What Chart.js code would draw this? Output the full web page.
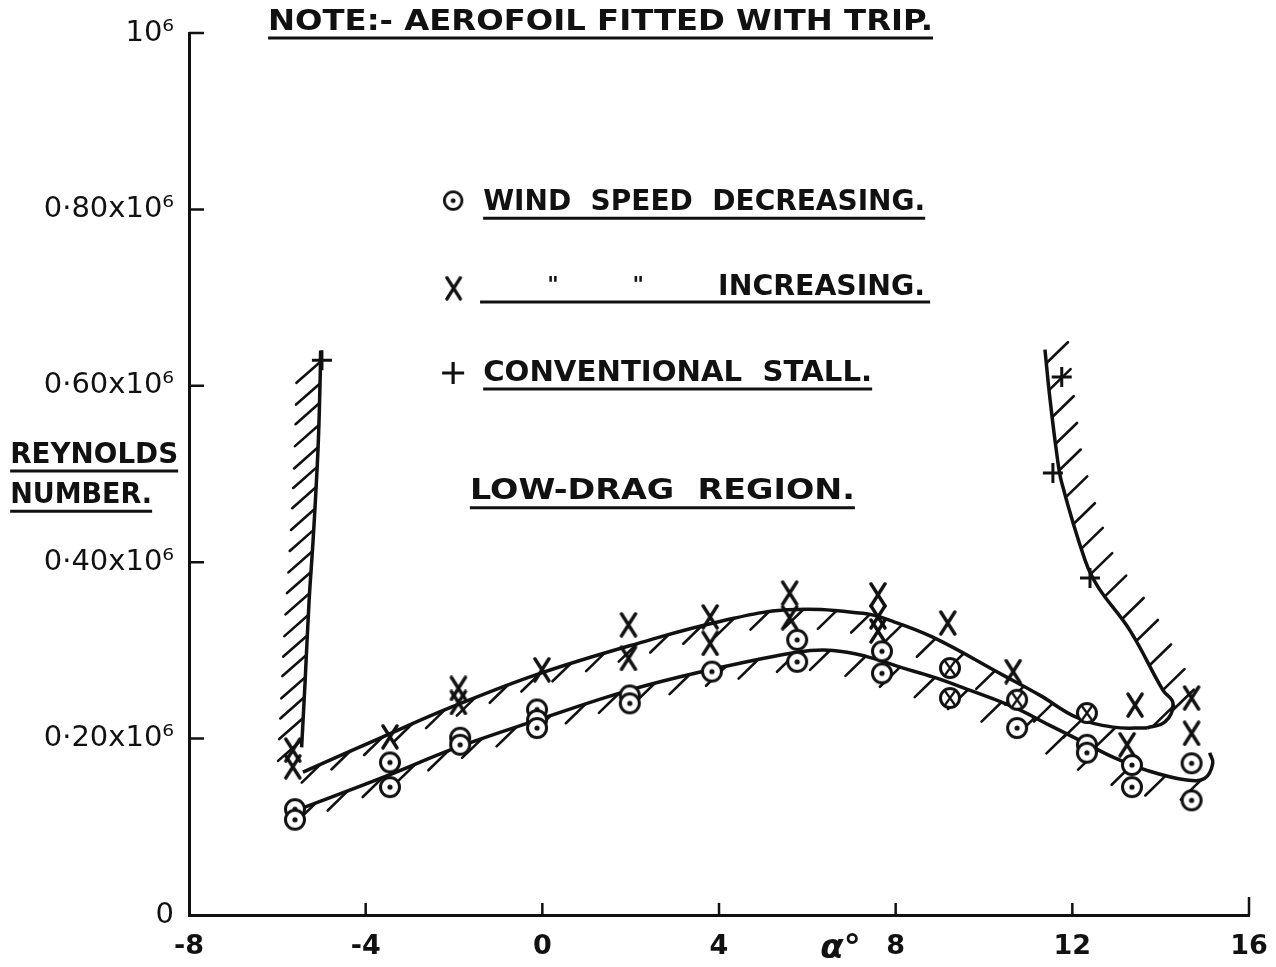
<!DOCTYPE html>
<html>
<head>
<meta charset="utf-8">
<script src="https://cdn.jsdelivr.net/npm/chart.js@4.4.1/dist/chart.umd.min.js"></script>
<style>
  html, body { margin: 0; padding: 0; background: #fff; }
  #wrap { width: 1276px; height: 967px; position: relative; }
</style>
</head>
<body>
<div id="wrap"><canvas id="chart"></canvas></div>
<script>
// Angle of incidence (deg) and Reynolds number (in units of 10^6)
const decAlpha = [-5.6, -5.6, -3.45, -3.45, -1.86, -1.86, -0.12, -0.12, -0.12, 1.98, 1.98, 3.84, 5.77, 5.77, 7.69, 7.69, 10.75, 12.33, 12.33, 13.35, 13.35, 14.7, 14.7];
const decRe    = [0.120, 0.108, 0.173, 0.145, 0.201, 0.193, 0.233, 0.221, 0.212, 0.249, 0.240, 0.276, 0.312, 0.287, 0.299, 0.274, 0.212, 0.193, 0.184, 0.170, 0.145, 0.172, 0.130];

const incAlpha = [-5.65, -5.65, -3.45, -1.9, -1.9, -0.01, 1.95, 1.95, 3.8, 3.8, 5.6, 5.6, 7.6, 7.6, 7.6, 9.18, 10.66, 13.42, 13.24, 14.7, 14.7];
const incRe    = [0.187, 0.168, 0.202, 0.257, 0.241, 0.278, 0.329, 0.291, 0.338, 0.308, 0.365, 0.337, 0.363, 0.338, 0.322, 0.331, 0.276, 0.238, 0.193, 0.246, 0.206];

// points where both runs coincide (circle with cross)
const bothAlpha = [9.23, 9.23, 10.75, 12.33];
const bothRe    = [0.280, 0.246, 0.244, 0.229];

const stallAlpha = [-4.99, 11.76, 11.56, 12.40];
const stallRe    = [0.629, 0.610, 0.501, 0.382];

// boundary curves of the low-drag region
const leftAlpha  = [-5.02, -5.03, -5.08, -5.19, -5.28, -5.37, -5.45];
const leftRe     = [0.640, 0.609, 0.527, 0.425, 0.357, 0.266, 0.190];
const upperAlpha = [-5.42, -3.61, -2.09, -0.05, 2.44, 3.95, 5.54, 7.26, 7.87, 8.84, 10.43, 11.27, 12.10, 12.92, 13.69];
const upperRe    = [0.162, 0.202, 0.235, 0.274, 0.312, 0.332, 0.346, 0.342, 0.334, 0.315, 0.272, 0.249, 0.224, 0.213, 0.212];
const rightAlpha = [11.38, 11.49, 11.65, 11.76, 12.29, 12.58, 13.3, 14.05, 14.28, 14.1, 13.69];
const rightRe    = [0.641, 0.587, 0.522, 0.490, 0.402, 0.372, 0.323, 0.255, 0.240, 0.219, 0.212];
const lowerAlpha = [-5.55, -3.61, -1.93, -0.12, 1.98, 3.80, 5.77, 6.58, 7.35, 8.10, 8.84, 9.46, 10.66, 11.49, 12.17, 12.92, 13.69, 14.59, 15.0, 15.18, 15.11];
const lowerRe    = [0.119, 0.156, 0.190, 0.221, 0.255, 0.278, 0.298, 0.300, 0.293, 0.281, 0.270, 0.259, 0.236, 0.215, 0.198, 0.179, 0.164, 0.153, 0.155, 0.172, 0.184];

const xTicks = [-8, -4, 0, 4, 8, 12, 16];
const yTicks = [0, 0.2, 0.4, 0.6, 0.8, 1.0];
const yTickLabels = ['0', '0·20x10⁶', '0·40x10⁶', '0·60x10⁶', '0·80x10⁶', '10⁶'];

const INK = '#111';
const FONT = '"DejaVu Sans", sans-serif';

const pts = (xs, ys) => xs.map((x, i) => ({ x, y: ys[i] }));

// drawn marker shapes
function makeMarker(kind) {
    const c = document.createElement('canvas');
    c.width = c.height = 26;
    const g = c.getContext('2d');
    g.strokeStyle = INK;
    g.lineWidth = 3;
    g.lineCap = 'round';
    if (kind === 'dot' || kind === 'both') {
        g.beginPath();
        g.arc(13, 13, 9.5, 0, Math.PI * 2);
        g.fillStyle = '#fff';
        g.fill();
        g.stroke();
    }
    if (kind === 'dot') {
        g.beginPath();
        g.arc(13, 13, 2.6, 0, Math.PI * 2);
        g.fillStyle = INK;
        g.fill();
    }
    if (kind === 'x') {
        g.lineWidth = 3.4;
        g.beginPath();
        g.moveTo(6, 2); g.lineTo(20, 24);
        g.moveTo(20, 2); g.lineTo(6, 24);
        g.stroke();
    }
    if (kind === 'both') {
        g.lineWidth = 2.2;
        g.beginPath();
        g.moveTo(8, 6); g.lineTo(18, 20);
        g.moveTo(18, 6); g.lineTo(8, 20);
        g.stroke();
    }
    return c;
}
const markDot = makeMarker('dot');
const markX = makeMarker('x');
const markBoth = makeMarker('both');

const curve = (xs, ys, hatch) => ({
    data: pts(xs, ys),
    showLine: true,
    pointRadius: 0,
    borderColor: INK,
    borderWidth: 3.5,
    tension: 0.4,
    hatch
});

// short diagonal strokes along a boundary, drawn under the lines
const hatchPlugin = {
    id: 'hatch',
    beforeDatasetsDraw(chart) {
        const ctx = chart.ctx;
        chart.data.datasets.forEach((ds, i) => {
            if (!ds.hatch) return;
            const el = chart.getDatasetMeta(i).data;
            const { dir, len, gap } = ds.hatch;
            ctx.save();
            ctx.strokeStyle = INK;
            ctx.lineWidth = 2.6;
            ctx.lineCap = 'round';
            ctx.beginPath();
            let next = gap / 2, run = 0, prev = null;
            for (let k = 0; k < el.length - 1; k++) {
                const a = el[k], b = el[k + 1];
                const c1x = a.cp2x ?? a.x, c1y = a.cp2y ?? a.y;
                const c2x = b.cp1x ?? b.x, c2y = b.cp1y ?? b.y;
                for (let s = 0; s <= 30; s++) {
                    const t = s / 30, u = 1 - t;
                    const x = u*u*u*a.x + 3*u*u*t*c1x + 3*u*t*t*c2x + t*t*t*b.x;
                    const y = u*u*u*a.y + 3*u*u*t*c1y + 3*u*t*t*c2y + t*t*t*b.y;
                    if (prev) {
                        run += Math.hypot(x - prev.x, y - prev.y);
                        while (run >= next) {
                            ctx.moveTo(x, y);
                            ctx.lineTo(x + dir[0] * len, y + dir[1] * len);
                            next += gap;
                        }
                    }
                    prev = { x, y };
                }
            }
            ctx.stroke();
            ctx.restore();
        });
    }
};

// notes, legend lines and axis titles placed in data units
const notes = [
    { text: 'NOTE:- AEROFOIL FITTED WITH TRIP.', x: -6.21, y: 1.0125, w: 665, ul: true },
    { text: 'WIND  SPEED  DECREASING.', x: -1.34, y: 0.808, w: 442, ul: true },
    { text: 'INCREASING.', x: 3.98, y: 0.712, w: 207 },
    { text: 'CONVENTIONAL  STALL.', x: -1.34, y: 0.6145, w: 389, ul: true },
    { text: 'LOW-DRAG  REGION.', x: -1.64, y: 0.48, w: 385, ul: true },
    { text: 'REYNOLDS', x: -12.05, y: 0.5215, w: 168, ul: true },
    { text: 'NUMBER.', x: -12.05, y: 0.476, w: 142, ul: true }
];

const decorPlugin = {
    id: 'decor',
    afterDraw(chart) {
        const { ctx, chartArea: area, scales: { x: xs, y: ys } } = chart;
        ctx.save();
        ctx.strokeStyle = INK;
        ctx.fillStyle = INK;

        // inward tick marks
        ctx.lineWidth = 2.5;
        ctx.beginPath();
        xTicks.slice(1).forEach(v => {
            const px = xs.getPixelForValue(v);
            ctx.moveTo(px, area.bottom);
            ctx.lineTo(px, area.bottom - (v === 16 ? 18 : 12));
        });
        yTicks.slice(1).forEach(v => {
            const py = ys.getPixelForValue(v);
            ctx.moveTo(area.left, py);
            ctx.lineTo(area.left + 15, py);
        });
        ctx.stroke();

        // text notes
        ctx.textBaseline = 'middle';
        ctx.textAlign = 'left';
        ctx.font = 'bold 29px ' + FONT;
        notes.forEach(n => {
            const px = xs.getPixelForValue(n.x), py = ys.getPixelForValue(n.y);
            const m = ctx.measureText(n.text).width;
            ctx.save();
            ctx.translate(px, py);
            ctx.scale(n.w / m, 1);
            ctx.fillText(n.text, 0, 0);
            ctx.restore();
            if (n.ul) {
                ctx.lineWidth = 3;
                ctx.beginPath();
                ctx.moveTo(px, py + 16);
                ctx.lineTo(px + n.w, py + 16);
                ctx.stroke();
            }
        });

        // "  "  INCREASING line: ditto marks and long underline
        const ly = ys.getPixelForValue(0.712);
        ctx.font = 'bold 22px ' + FONT;
        ctx.textAlign = 'center';
        ctx.fillText('"', xs.getPixelForValue(0.24), ly - 1);
        ctx.fillText('"', xs.getPixelForValue(2.17), ly - 1);
        ctx.lineWidth = 3;
        ctx.beginPath();
        ctx.moveTo(xs.getPixelForValue(-1.41), ly + 15);
        ctx.lineTo(xs.getPixelForValue(8.78), ly + 15);
        ctx.stroke();

        // legend symbols
        const sx = xs.getPixelForValue(-2.02);
        ctx.drawImage(markDot, sx - 12, ys.getPixelForValue(0.81) - 12, 24, 24);
        ctx.drawImage(markX, sx - 12, ys.getPixelForValue(0.71) - 13, 25, 25);
        const py3 = ys.getPixelForValue(0.6145);
        ctx.lineWidth = 3.2;
        ctx.beginPath();
        ctx.moveTo(sx - 11, py3); ctx.lineTo(sx + 11, py3);
        ctx.moveTo(sx, py3 - 11); ctx.lineTo(sx, py3 + 11);
        ctx.stroke();

        // x axis title
        ctx.font = 'italic bold 34px ' + FONT;
        ctx.textAlign = 'center';
        ctx.fillText('α°', xs.getPixelForValue(6.75), area.bottom + 34);
        ctx.restore();
    }
};

const ctx = document.getElementById('chart').getContext('2d');
new Chart(ctx, {
    type: 'scatter',
    data: {
        datasets: [
            { label: 'Wind speed decreasing', data: pts(decAlpha, decRe), pointStyle: markDot, pointRadius: 13 },
            { label: 'Wind speed increasing', data: pts(incAlpha, incRe), pointStyle: markX, pointRadius: 13 },
            { label: 'Decreasing and increasing', data: pts(bothAlpha, bothRe), pointStyle: markBoth, pointRadius: 13 },
            { label: 'Conventional stall', data: pts(stallAlpha, stallRe), pointStyle: 'cross', pointRadius: 10, borderWidth: 3, borderColor: INK },
            curve(leftAlpha, leftRe, { dir: [-0.75, 0.66], len: 32, gap: 21 }),
            curve(upperAlpha, upperRe, { dir: [-0.72, 0.70], len: 26, gap: 34 }),
            curve(rightAlpha, rightRe, { dir: [0.72, -0.70], len: 30, gap: 27 }),
            curve(lowerAlpha, lowerRe, { dir: [-0.72, 0.70], len: 28, gap: 36 })
        ]
    },
    options: {
        animation: false,
        responsive: true,
        maintainAspectRatio: false,
        layout: { padding: { top: 33, right: 27, left: 0, bottom: 0 } },
        plugins: {
            legend: { display: false },
            tooltip: { enabled: false }
        },
        scales: {
            x: {
                type: 'linear',
                min: -8, max: 16,
                afterBuildTicks: s => { s.ticks = xTicks.map(value => ({ value })); },
                ticks: { color: INK, font: { family: FONT, size: 27, weight: 'bold' }, padding: 8, maxRotation: 0 },
                grid: { display: false },
                border: { display: true, width: 3, color: INK },
                afterFit: s => { s.height = 52; }
            },
            y: {
                min: 0, max: 1,
                afterBuildTicks: s => { s.ticks = yTicks.map(value => ({ value })); },
                ticks: {
                    color: INK,
                    font: { family: FONT, size: 29 },
                    padding: 7,
                    callback: v => yTickLabels[Math.round(v / 0.2)]
                },
                grid: { display: false },
                border: { display: true, width: 3, color: INK },
                afterFit: s => { s.width = 189; }
            }
        }
    },
    plugins: [hatchPlugin, decorPlugin]
});
</script>
</body>
</html>
